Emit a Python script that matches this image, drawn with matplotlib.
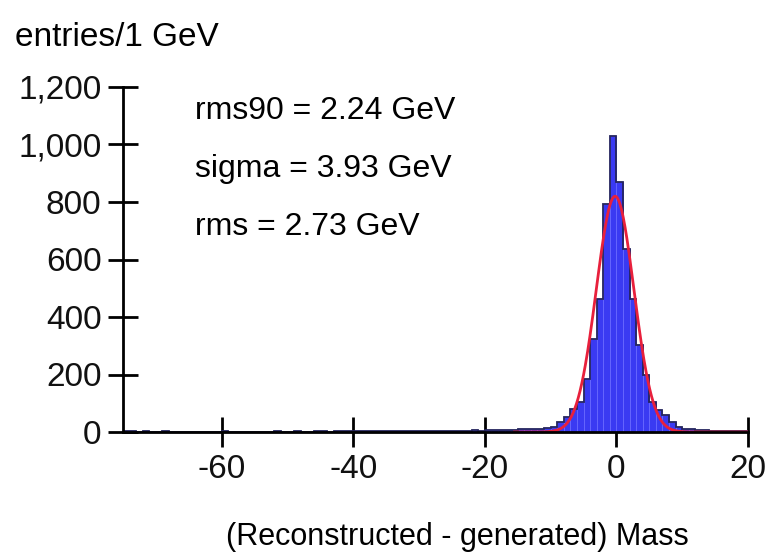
import numpy as np
import matplotlib
matplotlib.use("Agg")
import matplotlib.pyplot as plt
from matplotlib.ticker import FuncFormatter

# 1 GeV bins from -75 to 20
bin_lo, bin_hi = -75, 20
tail_left = [3, 2, 1, 2, 1, 1, 2, 1, 0, 1, 1, 1, 0, 1, 1, 2, 1, 1, 0, 1,
             1, 1, 1, 2, 1, 1, 2, 1, 1, 2, 2, 1, 3, 2, 4, 2, 3, 2, 3, 3,
             4, 3, 2, 4, 3, 3, 5, 4, 3, 4, 5, 4, 5, 6, 5, 6, 6, 7, 7, 8,
             9, 10]
core = [10, 12, 14, 17, 35, 52, 80, 104, 184, 323, 463, 793, 1030, 870,
        637, 463, 303, 198, 104, 77, 59, 35, 17, 12, 9, 8, 6, 5, 4, 4, 3, 3, 2]
counts = np.array(tail_left + core)

# gaussian fit drawn on top
fit_amp, fit_mean, fit_sigma = 820.0, -0.2, 2.85
fit_lo, fit_hi = -15.5, 20

labels = ["rms90 = 2.24 GeV", "sigma = 3.93 GeV", "rms = 2.73 GeV"]

narrow = ["Liberation Sans Narrow", "Liberation Sans", "DejaVu Sans"]
plain = ["Liberation Sans", "DejaVu Sans"]

fig = plt.figure(figsize=(7.71, 5.58), dpi=100)
ax = fig.add_axes([123 / 771, 1 - 432 / 558, (748 - 123) / 771, (432 - 87) / 558])

edges = np.arange(bin_lo, bin_hi + 1)
ax.bar(edges[:-1], counts, width=1.0, align="edge", color="#3a3af2",
       edgecolor="#6868ff", linewidth=0.6, zorder=2)
ax.stairs(counts, edges, color="#24245e", linewidth=1.3, zorder=3)

xf = np.linspace(fit_lo, fit_hi, 400)
ax.plot(xf, fit_amp * np.exp(-0.5 * ((xf - fit_mean) / fit_sigma) ** 2),
        color="#e8203c", linewidth=2.0, zorder=4)

ax.set_xlim(bin_lo, bin_hi)
ax.set_ylim(0, 1200)
ax.set_xticks([-60, -40, -20, 0, 20])
ax.set_yticks(range(0, 1201, 200))
ax.xaxis.set_major_formatter(FuncFormatter(lambda v, p: f"{int(v)}"))
ax.yaxis.set_major_formatter(FuncFormatter(lambda v, p: f"{int(v):,}"))

for s in ("top", "right"):
    ax.spines[s].set_visible(False)
for s in ("left", "bottom"):
    ax.spines[s].set_linewidth(2.0)
    ax.spines[s].set_zorder(5)
ax.tick_params(direction="inout", length=21, width=2.0, pad=5)
for t in ax.get_xticklabels() + ax.get_yticklabels():
    t.set_family(narrow)
    t.set_fontsize(24)
    t.set_color("#111111")

for lab, yb in zip(labels, [119, 177, 235]):
    fig.text(195 / 771, 1 - yb / 558, lab, family=plain, fontsize=23,
             va="baseline", ha="left", color="black")

fig.text(15 / 771, 1 - 37 / 558, "entries/1 GeV", family=narrow, fontsize=24,
         va="center", ha="left")
fig.text(457 / 771, 1 - 537 / 558, "(Reconstructed - generated) Mass",
         family=narrow, fontsize=22, va="center", ha="center")

fig.savefig("out.png", dpi=100)
